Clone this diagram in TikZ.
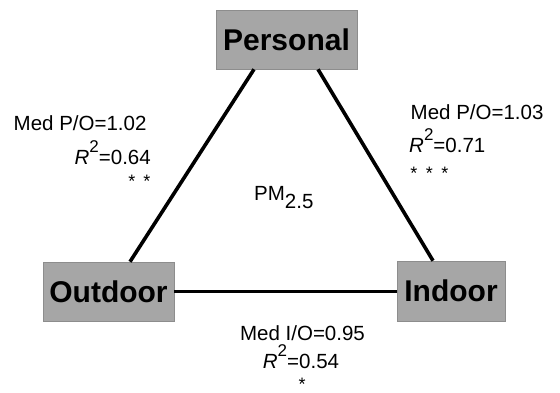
\documentclass[tikz,border=0pt]{standalone}
\usepackage{fontspec}
\setmainfont{Liberation Sans}
\definecolor{boxgray}{HTML}{A6A6A6}
\tikzset{
  box/.style={fill=boxgray, draw=boxgray!85!black, line width=0.6pt, inner sep=0pt,
    font=\fontsize{30}{36}\selectfont\bfseries},
  link/.style={line width=3.6pt, black},
  lab/.style={inner sep=0pt, font=\fontsize{20.5}{24}\selectfont},
  starrow/.style={inner sep=0pt, font=\fontsize{18}{18}\selectfont},
}
\newcommand{\Rsq}{\textit{R}\raisebox{12pt}[0pt][0pt]{\fontsize{17}{17}\selectfont 2}}
\begin{document}
\begin{tikzpicture}[x=1pt,y=-1pt]
\useasboundingbox (0,0) rectangle (560,392);
\node[box, minimum width=141pt, minimum height=59pt] (P) at (286.5,39.5) {Personal};
\node[box, minimum width=131pt, minimum height=59pt] (O) at (108.5,291.5) {Outdoor};
\node[box, minimum width=108pt, minimum height=60pt] (I) at (451,291) {Indoor};
\draw[link] ([xshift=-32.5pt]P.south) -- ([xshift=21.5pt]O.north);
\draw[link] ([xshift=31.5pt]P.south) -- ([xshift=-18pt]I.north);
\draw[link] (O.east) -- (O.east -| I.west);
\node[lab, anchor=base west] (t1) at (13.5,130) {Med P/O=1.02};
\node[lab, anchor=base east] (t2) at (151,164) {\Rsq=0.64};
\node[starrow, anchor=base] (s1) at (139.5,187.5) {*\hspace{8pt}*};
\node[lab, anchor=base west] (t3) at (410.5,119) {Med P/O=1.03};
\node[lab, anchor=base west] (t4) at (409,152) {\Rsq=0.71};
\node[starrow, anchor=base] (s2) at (429.5,179.5) {*\hspace{8.5pt}*\hspace{8.5pt}*};
\node[lab, anchor=base west] (pm) at (254,200) {PM\raisebox{-8pt}{2.5}};
\node[lab, anchor=base] (t5) at (302.5,340) {Med I/O=0.95};
\node[lab, anchor=base] (t6) at (301,368) {\Rsq=0.54};
\node[starrow, anchor=base] (s3) at (302,390) {*};
\end{tikzpicture}
\end{document}
